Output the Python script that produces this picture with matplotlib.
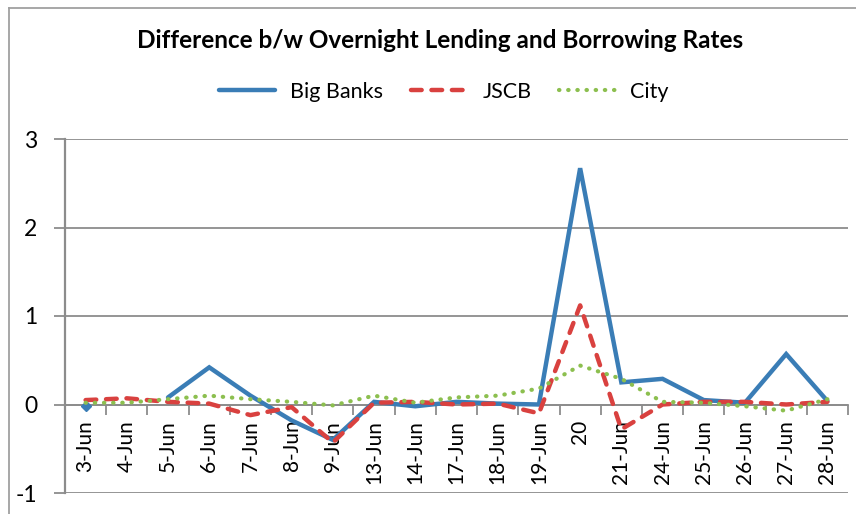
import numpy as np
import matplotlib.pyplot as plt
from matplotlib.lines import Line2D

plt.rcParams["font.family"] = ["Lato", "DejaVu Sans"]
plt.rcParams["axes.unicode_minus"] = False

dates = ["3-Jun", "4-Jun", "5-Jun", "6-Jun", "7-Jun", "8-Jun", "9-Jun", "13-Jun",
         "14-Jun", "17-Jun", "18-Jun", "19-Jun", "20", "21-Jun", "24-Jun", "25-Jun",
         "26-Jun", "27-Jun", "28-Jun"]
big_banks = [-0.02, np.nan, 0.08, 0.42, 0.10, -0.18, -0.40, 0.03, -0.02, 0.03,
             0.01, 0.00, 2.67, 0.25, 0.29, 0.05, 0.02, 0.57, 0.04]
jscb = [0.05, 0.07, 0.03, 0.01, -0.12, -0.03, -0.43, 0.02, 0.03, 0.00,
        0.01, -0.10, 1.12, -0.28, 0.00, 0.03, 0.03, 0.00, 0.03]
city = [0.02, 0.02, 0.06, 0.10, 0.06, 0.03, -0.01, 0.10, 0.02, 0.08,
        0.10, 0.18, 0.44, 0.29, 0.03, 0.02, -0.02, -0.07, 0.06]

BLUE = "#3A7DB6"
RED = "#D9413F"
GREEN = "#8CBF4F"
GRID = "#8C8C8C"

W, H = 856, 514
fig = plt.figure(figsize=(W / 100, H / 100), dpi=100)
fig.patch.set_facecolor("white")
ax = fig.add_axes([65 / W, 1 - 493 / H, (848 - 65) / W, (493 - 139) / H])

for s in ["top", "right"]:
    ax.spines[s].set_visible(False)
ax.spines["bottom"].set_position(("data", 0))
ax.spines["bottom"].set_color(GRID)
ax.spines["bottom"].set_linewidth(1.3)
ax.spines["left"].set_color(GRID)
ax.spines["left"].set_linewidth(1.6)
ax.spines["left"].set_zorder(0.5)

x = np.arange(len(dates))
ax.plot(x, big_banks, color=BLUE, lw=3.2, solid_capstyle="round", solid_joinstyle="miter", zorder=3)
ax.plot(x[:1], big_banks[:1], marker="D", ms=5, color=BLUE, lw=0, zorder=3)
ax.plot(x, jscb, color=RED, lw=3.2, linestyle=(0, (2.4, 2.2)), dash_capstyle="round", zorder=4)
ax.plot(x, city, color=GREEN, lw=3, linestyle=(0, (0.1, 2.1)), dash_capstyle="round", zorder=5)

ax.set_xlim(-0.5, len(dates) - 0.5)
ax.set_ylim(-1, 3)
ax.set_yticks([-1, 0, 1, 2, 3])
ax.yaxis.grid(True, color=GRID, lw=1.3)
ax.set_axisbelow(True)

ax.set_xticks(x)
ax.set_xticklabels(dates, rotation=90, fontsize=15)
ax.set_xticks(np.arange(-0.5, len(dates)), minor=True)
ax.tick_params(axis="x", which="major", length=0, pad=11)
ax.tick_params(axis="x", which="minor", length=7, width=1.3, color=GRID, direction="out")
ax.tick_params(axis="y", length=8, width=1.3, color=GRID, labelsize=16.5, pad=12)

# chart border
fig.add_artist(Line2D([9 / W, 1], [1 - 8 / H, 1 - 8 / H], color="#A0A0A0", lw=1.3))
fig.add_artist(Line2D([9 / W, 9 / W], [0, 1 - 8 / H], color="#A0A0A0", lw=1.3))

fig.text(440 / W, 1 - 41 / H, "Difference b/w Overnight Lending and Borrowing Rates",
         ha="center", va="center", fontsize=17.5, fontweight="bold")

handles = [
    Line2D([], [], color=BLUE, lw=3.2, solid_capstyle="round"),
    Line2D([], [], color=RED, lw=3.2, linestyle=(0, (2.4, 2.2)), dash_capstyle="round"),
    Line2D([], [], color=GREEN, lw=3, linestyle=(0, (0.1, 2.1)), dash_capstyle="round"),
]
fig.legend(handles, ["Big Banks", "JSCB", "City"], loc="center", ncol=3,
           bbox_to_anchor=(444 / W, 1 - 92 / H), frameon=False, fontsize=15.5,
           handlelength=2.6, handletextpad=0.7, columnspacing=1.3)

fig.savefig("out.png", dpi=100)
